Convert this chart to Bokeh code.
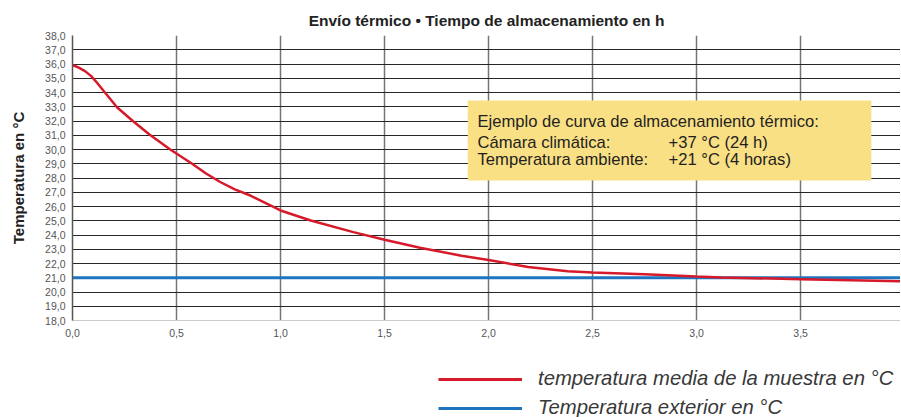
from bokeh.plotting import figure
from bokeh.layouts import column
from bokeh.models import (Range1d, FixedTicker, BoxAnnotation, Label, Legend, LegendItem)
from bokeh.embed import file_html
from bokeh.resources import INLINE

# ---- data ----
hours = [0.0, 0.03, 0.06, 0.09, 0.12, 0.15, 0.215, 0.29, 0.37, 0.47, 0.575, 0.64, 0.71,
         0.78, 0.855, 1.0, 1.145, 1.35, 1.5, 1.67, 1.87, 2.0, 2.19, 2.38, 2.5, 2.75, 3.0,
         3.12, 3.5, 3.98]
sample_temp = [35.93, 35.75, 35.5, 35.15, 34.65, 34.1, 32.95, 32.0, 31.05, 30.0, 29.0,
               28.33, 27.72, 27.2, 26.77, 25.72, 25.02, 24.2, 23.67, 23.1, 22.55, 22.25,
               21.75, 21.45, 21.37, 21.25, 21.09, 21.02, 20.9, 20.75]
ext_hours = [0.0, 3.98]
ext_temp = [21.0, 21.0]

x_ticks = [0, 0.5, 1.0, 1.5, 2.0, 2.5, 3.0, 3.5]
x_tick_labels = ["0,0", "0,5", "1,0", "1,5", "2,0", "2,5", "3,0", "3,5"]
y_ticks = list(range(18, 39))
y_tick_labels = [f"{v},0" for v in y_ticks]

title_text = "Envío térmico • Tiempo de almacenamiento en h"
y_label = "Temperatura en °C"
box_lines = [
    ("Ejemplo de curva de almacenamiento térmico:", ""),
    ("Cámara climática:", "+37 °C (24 h)"),
    ("Temperatura ambiente:", "+21 °C (4 horas)"),
]
legend_labels = ["temperatura media de la muestra en °C", "Temperatura exterior en °C"]

FONT = "Liberation Sans"
RED = "#d71a2a"
BLUE = "#1f74c0"

p = figure(width=900, height=345, output_backend="svg", toolbar_location=None,
           x_range=Range1d(0, 3.98), y_range=Range1d(18, 38),
           min_border_left=72, min_border_right=0, min_border_top=35, min_border_bottom=25)
p.outline_line_color = None
p.background_fill_color = "white"

p.title.text = title_text
p.title.align = "center"
p.title.text_font = FONT
p.title.text_font_size = "15.5px"
p.title.text_font_style = "bold"
p.title.text_color = "#222222"
p.title.standoff = 13

# grids
p.xgrid.ticker = FixedTicker(ticks=x_ticks[1:])
p.xgrid.grid_line_color = "#747474"
p.xgrid.grid_line_width = 1.5
p.ygrid.ticker = FixedTicker(ticks=y_ticks[1:])
p.ygrid.grid_line_color = "#262626"
p.ygrid.grid_line_width = 1

# axes
p.xaxis.ticker = FixedTicker(ticks=x_ticks)
p.xaxis.major_label_overrides = {t: l for t, l in zip(x_ticks, x_tick_labels)}
p.yaxis.ticker = FixedTicker(ticks=y_ticks)
p.yaxis.major_label_overrides = {t: l for t, l in zip(y_ticks, y_tick_labels)}
for ax in (p.xaxis[0], p.yaxis[0]):
    ax.major_tick_out = 0
    ax.major_tick_in = 0
    ax.minor_tick_out = 0
    ax.minor_tick_in = 0
    ax.major_label_text_font = FONT
    ax.major_label_text_font_size = "10.5px"
    ax.major_label_text_color = "#555555"
p.xaxis.axis_line_color = "#cccccc"
p.xaxis.major_label_standoff = 8
p.yaxis.axis_line_color = "#555555"
p.yaxis.axis_line_width = 1.5
p.yaxis.major_label_standoff = 7
p.yaxis.axis_label = y_label
p.yaxis.axis_label_text_font = FONT
p.yaxis.axis_label_text_font_style = "bold"
p.yaxis.axis_label_text_font_size = "15px"
p.yaxis.axis_label_text_color = "#222222"
p.yaxis.axis_label_standoff = 15

# annotation box
box = BoxAnnotation(left=1.9, right=3.84, bottom=27.82, top=33.44,
                    fill_color="#fae085", fill_alpha=1.0, line_color=None)
p.add_layout(box)

line_y = [31.96, 30.51, 29.30]
for (a, b), yy in zip(box_lines, line_y):
    p.add_layout(Label(x=1.947, y=yy, text=a, text_font=FONT, text_font_size="16.6px",
                       text_color="#231f20", text_baseline="alphabetic"))
    if b:
        p.add_layout(Label(x=2.865, y=yy, text=b, text_font=FONT, text_font_size="16.6px",
                           text_color="#231f20", text_baseline="alphabetic"))

# lines
p.line(ext_hours, ext_temp, line_color=BLUE, line_width=3)
p.line(hours, sample_temp, line_color=RED, line_width=2.5)

# legend strip below the chart (same series, drawn outside its visible range)
p2 = figure(width=900, height=72, output_backend="svg", toolbar_location=None,
            x_range=Range1d(0, 3.98), y_range=Range1d(100, 101),
            min_border_left=0, min_border_right=0, min_border_top=0, min_border_bottom=0)
p2.outline_line_color = None
p2.axis.visible = False
p2.grid.visible = False
l_red = p2.line(hours, sample_temp, line_color=RED, line_width=3)
l_blue = p2.line(ext_hours, ext_temp, line_color=BLUE, line_width=3)

legend = Legend(items=[LegendItem(label=legend_labels[0], renderers=[l_red]),
                       LegendItem(label=legend_labels[1], renderers=[l_blue])],
                location=(366, -2), orientation="vertical",
                background_fill_alpha=0, border_line_color=None, padding=0, margin=0,
                spacing=6, glyph_width=84, glyph_height=20, label_height=20,
                label_standoff=16, label_text_font=FONT, label_text_font_size="20.3px",
                label_text_font_style="italic", label_text_color="#383838")
p2.add_layout(legend)

open("out.html", "w").write(file_html(column(p, p2), INLINE))
